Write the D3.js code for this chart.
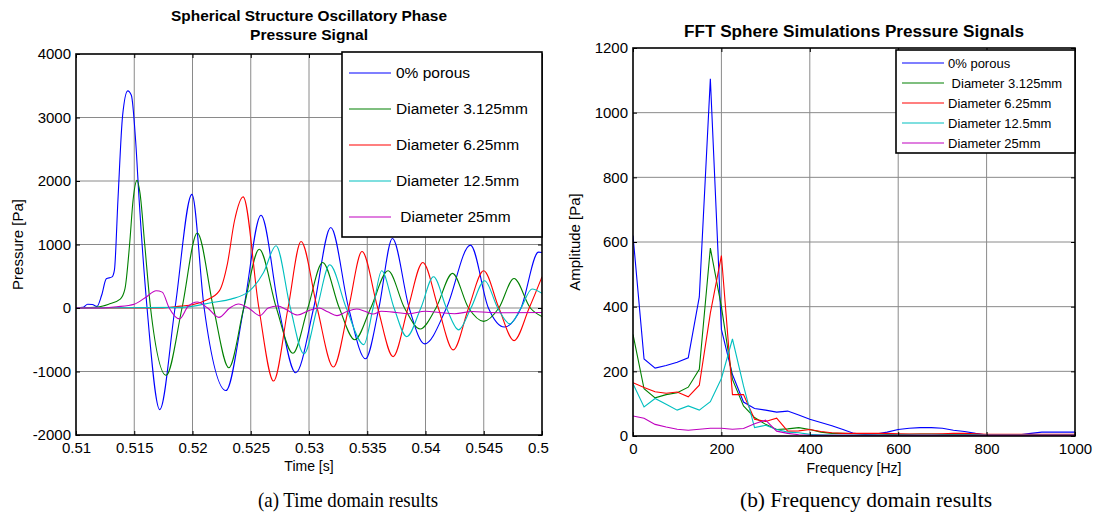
<!DOCTYPE html>
<html><head><meta charset="utf-8">
<script src="https://cdn.jsdelivr.net/npm/d3@7"></script>
<style>body{margin:0;background:#fff}svg{display:block}text{font-family:Arial,"Liberation Sans",sans-serif}</style>
</head><body><svg id="c" width="1097" height="520"></svg>
<script>
// ---------- Time-domain data (a) ----------
const timeTicks = [0.51,0.515,0.52,0.525,0.53,0.535,0.54,0.545,0.55];
const timeTickLabels = ["0.51","0.515","0.52","0.525","0.53","0.535","0.54","0.545","0.55"];
const pressureTicks = [-2000,-1000,0,1000,2000,3000,4000];

const porous0T = [0.5100,0.5106,0.5110,0.5114,0.5118,0.5122,0.5126,0.5131,0.5133,0.5136,0.5140,0.51444,0.51475,0.51512,0.51542,0.5161,0.51719,0.5185,0.51995,0.5210,0.52287,0.5244,0.52588,0.5274,0.52886,0.5304,0.53187,0.5334,0.53485,0.5360,0.53716,0.5386,0.53992,0.5418,0.54386,0.5454,0.54677,0.5482,0.5497,0.5500];
const porous0P = [0,10,60,55,25,200,460,490,600,1700,3030,3420,3350,2630,1700,0,-1600,0,1790,0,-1300,0,1460,0,-1020,0,1267,0,-800,0,1094,0,-565,0,990,0,-300,0,880,875];

const d3125T = [0.5100,0.5120,0.5128,0.5138,0.5142,0.5146,0.5149,0.51524,0.5155,0.5159,0.5164,0.51774,0.5191,0.52041,0.5218,0.52312,0.5244,0.52573,0.5272,0.52862,0.5299,0.53117,0.5326,0.53393,0.5353,0.53679,0.5382,0.53955,0.5409,0.54232,0.5437,0.54499,0.5463,0.5476,0.5490,0.5500];
const d3125P = [0,20,60,140,300,1000,1700,2010,1800,1000,0,-1060,0,1180,0,-940,0,925,0,-712,0,717,0,-500,0,586,0,-330,0,545,0,-210,0,465,0,-136];

const d625T = [0.5100,0.5172,0.5190,0.5200,0.5212,0.5223,0.5230,0.5236,0.52435,0.5257,0.52696,0.5282,0.52932,0.5307,0.53209,0.5334,0.53455,0.5359,0.53722,0.5385,0.53977,0.5411,0.54238,0.5437,0.54499,0.5463,0.5476,0.5489,0.5500];
const d625P = [0,0,30,50,125,270,700,1370,1750,0,-1150,0,1047,0,-930,0,890,0,-765,0,717,0,-660,0,586,0,-513,0,492];

const d125T = [0.5100,0.5190,0.5218,0.5233,0.5249,0.5261,0.52717,0.5284,0.52957,0.5307,0.53178,0.5332,0.53470,0.5355,0.53624,0.5373,0.53839,0.5396,0.54069,0.5418,0.54284,0.5439,0.54508,0.5462,0.54723,0.5482,0.54914,0.5500];
const d125P = [0,10,90,140,270,560,980,0,-722,0,680,0,-576,0,586,0,-450,0,492,0,-345,0,430,0,-250,0,300,230];

const d25T = [0.5100,0.5120,0.5135,0.5150,0.5160,0.51688,0.5174,0.5180,0.51888,0.5196,0.52041,0.5213,0.52226,0.5232,0.52395,0.5248,0.52579,0.5265,0.52733,0.5280,0.52902,0.5300,0.53086,0.5316,0.5324,0.5332,0.53408,0.5348,0.5355,0.5362,0.5375,0.5385,0.5400,0.5412,0.5425,0.5440,0.5455,0.5470,0.5500];
const d25P = [0,0,20,60,170,272,250,0,-172,20,95,0,-147,0,63,0,-120,0,31,-20,-110,-40,0,-60,-120,-60,-16,-50,-94,-52,-70,-90,-52,-70,-90,-55,-70,-75,-70];

// ---------- Frequency-domain data (b) ----------
const freqHz = [0,25,50,75,100,125,150,175,200,225,250,275,300,325,350,375,400,425,450,475,500,525,550,575,600,625,650,675,700,725,750,775,800,825,850,875,900,925,950,975,1000];
const freqTicks = [0,200,400,600,800,1000];
const ampTicks = [0,200,400,600,800,1000,1200];
const ampPorous0 = [620,238,210,218,228,242,430,1105,330,190,105,85,80,74,77,65,52,42,32,20,8,5,6,12,20,24,26,26,24,18,14,8,3,2,2,4,8,12,12,12,12];
const amp3125 = [314,146,118,128,134,151,206,581,400,175,93,57,36,20,22,26,20,12,8,8,7,6,6,5,5,5,6,6,5,5,5,5,4,4,4,4,4,4,4,4,4];
const amp625 = [165,150,137,132,136,121,157,380,558,128,128,52,45,55,15,16,20,14,10,8,8,8,8,8,7,6,6,6,7,8,8,7,5,5,5,5,5,5,5,5,5];
const amp125 = [162,90,116,98,80,93,80,106,178,300,155,26,33,20,12,10,5,4,3,3,3,3,3,3,3,3,3,3,3,3,3,3,3,3,3,3,3,3,3,3,3];
const amp25 = [62,55,36,28,21,18,21,24,24,21,23,38,49,15,8,4,2,2,2,2,2,2,2,2,2,2,2,2,2,2,2,2,2,2,2,2,2,2,2,2,2];

const seriesNames = ["0% porous","Diameter 3.125mm","Diameter 6.25mm","Diameter 12.5mm"," Diameter 25mm"];
const seriesNamesB = ["0% porous"," Diameter 3.125mm","Diameter 6.25mm","Diameter 12.5mm","Diameter 25mm"];
const colors = ["#0000ff","#008000","#ff0000","#00bfbf","#bf00bf"];

const svg = d3.select("#c");
const gridColor = "#8a8a8a";

function panel(opt){
  const g = svg.append("g");
  const clipId = opt.id+"clip";
  const defs = svg.append("defs");
  defs.append("clipPath").attr("id",clipId).append("rect")
    .attr("x",opt.x.range()[0]).attr("y",opt.y.range()[1])
    .attr("width",opt.x.range()[1]-opt.x.range()[0]).attr("height",opt.y.range()[0]-opt.y.range()[1]);
  const [x0,x1] = opt.x.range(), [y0,y1] = opt.y.range();
  g.append("g").selectAll("line").data(opt.xTicks.slice(1,-1)).join("line")
    .attr("x1",d=>opt.x(d)).attr("x2",d=>opt.x(d)).attr("y1",y1).attr("y2",y0)
    .attr("stroke",gridColor).attr("stroke-width",1);
  g.append("g").selectAll("line").data(opt.yTicks.slice(1,-1)).join("line")
    .attr("y1",d=>opt.y(d)).attr("y2",d=>opt.y(d)).attr("x1",x0).attr("x2",x1)
    .attr("stroke",gridColor).attr("stroke-width",1);
  const lg = g.append("g").attr("clip-path",`url(#${clipId})`);
  opt.series.forEach((s,i)=>{
    const line = d3.line().x(d=>opt.x(d[0])).y(d=>opt.y(d[1])).curve(opt.curve);
    lg.append("path").datum(s).attr("d",line).attr("fill","none")
      .attr("stroke",colors[i]).attr("stroke-width",1.1);
  });
  const ax = g.append("g").attr("transform",`translate(0,${y0})`)
    .call(d3.axisBottom(opt.x).tickValues(opt.xTicks).tickSize(-4).tickPadding(7)
      .tickFormat((d,i)=>opt.xLabels[i]));
  const axT = g.append("g").attr("transform",`translate(0,${y1})`)
    .call(d3.axisTop(opt.x).tickValues(opt.xTicks).tickSize(-4).tickFormat(""));
  const ay = g.append("g").attr("transform",`translate(${x0},0)`)
    .call(d3.axisLeft(opt.y).tickValues(opt.yTicks).tickSize(-4).tickPadding(5).tickFormat(d=>d));
  const ayR = g.append("g").attr("transform",`translate(${x1},0)`)
    .call(d3.axisRight(opt.y).tickValues(opt.yTicks).tickSize(-4).tickFormat(""));
  [ax,axT,ay,ayR].forEach(a=>{
    a.select(".domain").remove();
    a.selectAll("line").attr("stroke","#000");
    a.selectAll("text").attr("font-size",15).attr("fill","#000").style("font-family","Arial,'Liberation Sans'");
  });
  g.append("rect").attr("x",x0).attr("y",y1).attr("width",x1-x0).attr("height",y0-y1)
    .attr("fill","none").attr("stroke","#000").attr("stroke-width",1.6);
  const L = opt.legend;
  const lgd = g.append("g");
  lgd.append("rect").attr("x",L.x).attr("y",L.y).attr("width",L.w).attr("height",L.h)
    .attr("fill","#fff").attr("stroke","#000").attr("stroke-width",1.6);
  opt.names.forEach((n,i)=>{
    const yy = L.y + L.first + i*L.step;
    lgd.append("line").attr("x1",L.x+L.l0).attr("x2",L.x+L.l1).attr("y1",yy).attr("y2",yy)
      .attr("stroke",colors[i]).attr("stroke-width",1.1);
    lgd.append("text").attr("x",L.x+L.tx).attr("y",yy).attr("dy","0.35em")
      .attr("font-size",L.fs).attr("xml:space","preserve").style("white-space","pre").text(n);
  });
  opt.title.forEach((t,i)=>{
    g.append("text").attr("x",(x0+x1)/2).attr("y",opt.titleY+i*opt.titleStep).attr("text-anchor","middle")
      .attr("font-size",opt.titleFs).attr("font-weight","bold")
      .attr("textLength",opt.titleLen[i]).attr("lengthAdjust","spacingAndGlyphs").text(t);
  });
  g.append("text").attr("x",(x0+x1)/2).attr("y",opt.xLabelY).attr("text-anchor","middle")
    .attr("font-size",14).text(opt.xLabel);
  g.append("text").attr("transform",`translate(${opt.yLabelX},${(y0+y1)/2}) rotate(-90)`)
    .attr("text-anchor","middle").attr("font-size",15).text(opt.yLabel);
  return g;
}

const xT = d3.scaleLinear([0.51,0.55],[76,542]);
const yP = d3.scaleLinear([-2000,4000],[435,54]);
const zipT = (t,p)=>t.map((v,i)=>[v,p[i]]);
const gA = panel({id:"a", x:xT, y:yP, xTicks:timeTicks, xLabels:timeTickLabels, yTicks:pressureTicks,
  series:[zipT(porous0T,porous0P),zipT(d3125T,d3125P),zipT(d625T,d625P),zipT(d125T,d125P),zipT(d25T,d25P)],
  curve:d3.curveMonotoneX, names:seriesNames,
  legend:{x:342,y:52,w:200,h:185,first:21,step:36,l0:7,l1:49,tx:54,fs:15.5},
  title:["Spherical Structure Oscillatory Phase","Pressure Signal"], titleLen:[276,118], titleY:21, titleStep:19, titleFs:15,
  xLabel:"Time [s]", xLabelY:471, yLabel:"Pressure [Pa]", yLabelX:23});
svg.append("defs").append("clipPath").attr("id","leftEdge").append("rect").attr("x",0).attr("y",0).attr("width",549).attr("height",520);
gA.attr("clip-path","url(#leftEdge)");

const xF = d3.scaleLinear([0,1000],[633,1075]);
const yA = d3.scaleLinear([0,1200],[436,48]);
const zipF = a=>freqHz.map((f,i)=>[f,a[i]]);
panel({id:"b", x:xF, y:yA, xTicks:freqTicks, xLabels:freqTicks.map(String), yTicks:ampTicks,
  series:[zipF(ampPorous0),zipF(amp3125),zipF(amp625),zipF(amp125),zipF(amp25)],
  curve:d3.curveLinear, names:seriesNamesB,
  legend:{x:896,y:50,w:179,h:103,first:13,step:20,l0:6,l1:48,tx:52,fs:13},
  title:["FFT Sphere Simulations Pressure Signals"], titleLen:[340], titleY:37, titleStep:0, titleFs:16,
  xLabel:"Frequency [Hz]", xLabelY:473, yLabel:"Amplitude [Pa]", yLabelX:580});

svg.append("text").attr("x",348).attr("y",507).attr("text-anchor","middle")
  .style("font-family","'Liberation Serif','Times New Roman',serif").attr("font-size",21)
  .attr("textLength",180).attr("lengthAdjust","spacingAndGlyphs").text("(a) Time domain results");
svg.append("text").attr("x",866).attr("y",507).attr("text-anchor","middle")
  .style("font-family","'Liberation Serif','Times New Roman',serif").attr("font-size",21)
  .attr("textLength",252).attr("lengthAdjust","spacingAndGlyphs").text("(b) Frequency domain results");
</script></body></html>
